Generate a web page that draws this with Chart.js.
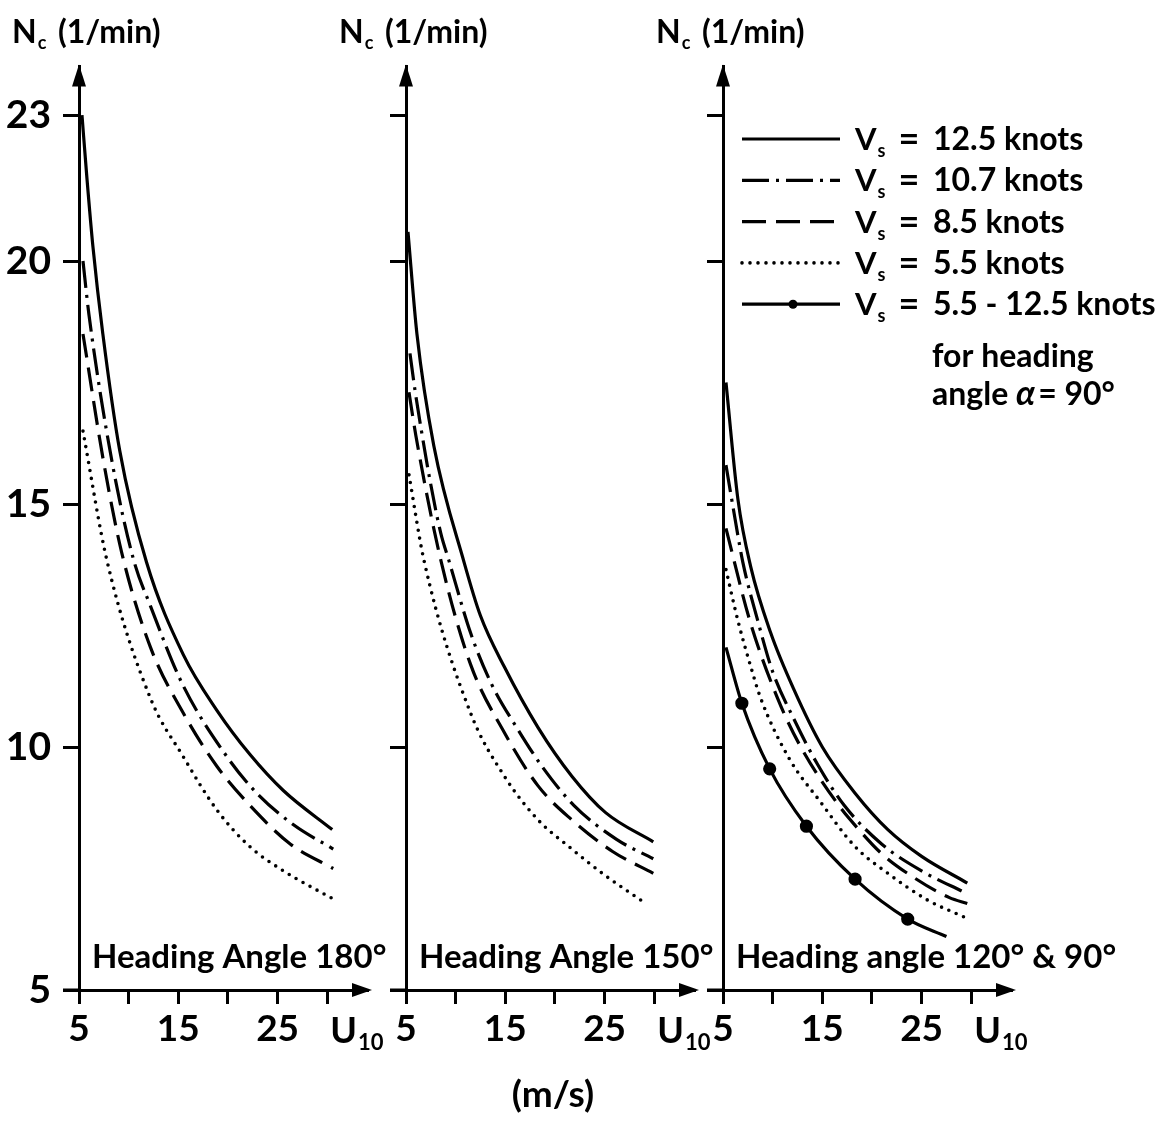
<!DOCTYPE html>
<html>
<head>
<meta charset="utf-8">
<title>Nc against U10</title>
<script src="https://cdn.jsdelivr.net/npm/chart.js@4.4.0/dist/chart.umd.min.js"></script>
<style>
  html, body { margin: 0; padding: 0; background: #fff; }
  #wrap { position: relative; width: 1169px; height: 1125px; overflow: hidden; }
  #wrap canvas { position: absolute; top: 0; }
</style>
</head>
<body>
<div id="wrap">
  <canvas id="p180" width="400" height="1125" style="left:0px"></canvas>
  <canvas id="p150" width="400" height="1125" style="left:327px"></canvas>
  <canvas id="p120" width="525" height="1125" style="left:644px"></canvas>
</div>
<script>
// axis ticks: wind speed U10 (m/s) and Nc (1/min)
const xTicks = [5, 10, 15, 20, 25, 30]
const xTickLabels = [5, 15, 25]
const yTicks = [5, 10, 15, 20, 23]

// ship speeds shown in the legend
const speedLabels = ['12.5 knots', '10.7 knots', '8.5 knots', '5.5 knots', '5.5 - 12.5 knots']

// heading angle 180°, [U10, Nc] per ship speed
const h180_v125 = [[5.3, 23.0], [5.8, 21.7], [6.4, 20.3], [7.4, 18.5], [9.1, 16.1], [11.8, 13.8], [15.5, 11.9], [18.9, 10.75], [22.2, 9.85], [25.6, 9.1], [30.5, 8.3]]
const h180_v107 = [[5.4, 20.0], [6.0, 18.9], [8.3, 15.9], [10.5, 13.85], [12.2, 12.9], [15.4, 11.3], [19.9, 9.8], [22.9, 9.05], [26.6, 8.4], [30.6, 7.9]]
const h180_v85 = [[5.4, 18.5], [7.45, 15.9], [9.3, 14.0], [12.2, 12.05], [15.5, 10.7], [18.9, 9.6], [22.2, 8.8], [26.3, 8.0], [30.6, 7.5]]
const h180_v55 = [[5.4, 16.5], [7.8, 13.85], [12.2, 11.0], [15.5, 9.8], [18.9, 8.7], [22.2, 7.95], [25.6, 7.45], [30.8, 6.85]]

// heading angle 150°
const h150_v125 = [[5.2, 20.6], [6.1, 18.5], [7.8, 16.2], [10.85, 13.8], [12.5, 12.7], [14.9, 11.65], [18.3, 10.4], [21.7, 9.4], [25.1, 8.65], [29.9, 8.05]]
const h150_v107 = [[5.4, 18.1], [5.9, 17.35], [6.6, 16.45], [7.45, 15.45], [8.5, 14.4], [9.3, 13.85], [11.5, 12.35], [13.6, 11.3], [16.3, 10.35], [18.7, 9.6], [21.9, 8.8], [26.2, 8.1], [29.9, 7.7]]
const h150_v85 = [[5.3, 17.3], [6.0, 16.4], [8.5, 13.85], [11.5, 11.7], [14.9, 10.3], [18.3, 9.2], [21.7, 8.5], [25.8, 7.85], [29.9, 7.4]]
const h150_v55 = [[5.3, 15.6], [6.8, 13.85], [11.5, 10.7], [14.9, 9.4], [18.3, 8.5], [21.7, 7.9], [25.1, 7.35], [29.0, 6.8]]

// heading angle 120°, plus the 90° curve that holds for all speeds
const h120_v125 = [[5.3, 17.5], [6.5, 15.1], [7.8, 13.7], [9.8, 12.35], [12.1, 11.2], [15.0, 10.0], [18.3, 9.05], [21.6, 8.3], [25.0, 7.75], [29.6, 7.2]]
const h120_v107 = [[5.3, 15.8], [6.0, 14.95], [7.0, 13.8], [8.5, 12.6], [10.0, 11.55], [12.2, 10.55], [14.5, 9.65], [17.2, 8.8], [21.0, 8.0], [25.0, 7.45], [29.4, 7.0]]
const h120_v85 = [[5.3, 14.5], [7.7, 12.6], [10.5, 11.0], [12.7, 10.05], [16.65, 8.8], [18.55, 8.33], [21.0, 7.8], [24.1, 7.33], [27.8, 6.9], [29.6, 6.78]]
const h120_v55 = [[5.3, 13.65], [6.5, 12.6], [7.8, 11.65], [8.8, 11.0], [11.7, 9.75], [14.7, 8.9], [18.3, 7.95], [21.6, 7.4], [25.6, 6.85], [29.3, 6.5]]
const h90_all = [[5.3, 12.05], [6.9, 10.9], [9.7, 9.55], [13.4, 8.37], [18.3, 7.28], [23.6, 6.46], [27.5, 6.1]]
const h90_marks = [0, 5, 5, 5, 5, 5, 0]

const FONT = 'Lato, "Open Sans", sans-serif'
Chart.defaults.font.family = FONT
Chart.defaults.font.weight = 'bold'
Chart.defaults.color = '#000'

// line style for each ship speed
const styles = [
  { borderDash: [] },
  { borderDash: [27, 7, 3, 7] },
  { borderDash: [24, 10] },
  { borderDash: [0, 8], borderCapStyle: 'round', borderWidth: 3.6 },
  { borderDash: [], pointRadius: h90_marks }
]

const toXY = pts => pts.map(p => ({ x: p[0], y: p[1] }))

function series(i, pts) {
  return Object.assign({
    label: speedLabels[i],
    data: toXY(pts),
    borderColor: '#000',
    backgroundColor: '#000',
    borderWidth: 3.2,
    borderCapStyle: 'butt',
    pointRadius: 0,
    cubicInterpolationMode: 'monotone',
    fill: false
  }, styles[i])
}

// main text followed by a lowered subscript, returns the x where it ends
function textSub(ctx, x, y, main, sub, size, subSize, drop) {
  ctx.font = `bold ${size}px ${FONT}`
  ctx.fillText(main, x, y)
  const w = ctx.measureText(main).width
  ctx.font = `bold ${subSize}px ${FONT}`
  ctx.fillText(sub, x + w + 1, y + drop)
  return x + w + 1 + ctx.measureText(sub).width
}

function drawLegend(ctx, a, chart) {
  chart.data.datasets.forEach((ds, i) => {
    const base = 150 + i * 41.3
    const ly = base - 11
    ctx.save()
    ctx.lineWidth = ds.borderWidth
    ctx.lineCap = ds.borderCapStyle
    ctx.setLineDash(ds.borderDash)
    ctx.beginPath()
    ctx.moveTo(a.left + 19, ly)
    ctx.lineTo(a.left + 117, ly)
    ctx.stroke()
    ctx.restore()
    if (Array.isArray(ds.pointRadius)) {
      ctx.beginPath()
      ctx.arc(a.left + 70, ly, 4.5, 0, Math.PI * 2)
      ctx.fill()
    }
    textSub(ctx, a.left + 132, base, 'V', 's', 31, 18, 7)
    ctx.font = `bold 36px ${FONT}`
    ctx.textAlign = 'center'
    ctx.fillText('=', a.left + 186, base + 1)
    ctx.textAlign = 'left'
    ctx.font = `bold 32px ${FONT}`
    ctx.fillText(ds.label, a.left + 210, base)
  })
  ctx.font = `bold 32px ${FONT}`
  ctx.fillText('for heading', a.left + 209, 367)
  ctx.fillText('angle', a.left + 209, 405)
  let cx = a.left + 209 + ctx.measureText('angle ').width
  ctx.font = `italic bold 34px ${FONT}`
  ctx.fillText('α', cx, 405)
  cx += ctx.measureText('α').width + 3
  ctx.font = `bold 32px ${FONT}`
  ctx.fillText('= 90°', cx, 405)
}

// axis arrows, axis titles, panel caption and legend
const decor = {
  id: 'decor',
  afterDraw(chart, args, opts) {
    const { ctx, chartArea: a, scales: { x } } = chart
    ctx.save()
    ctx.fillStyle = '#000'
    ctx.strokeStyle = '#000'
    ctx.lineWidth = 3

    // x axis carries on past the y axis to the tick ends
    ctx.beginPath()
    ctx.moveTo(a.left - 16, a.bottom)
    ctx.lineTo(a.left, a.bottom)
    ctx.stroke()

    ctx.beginPath()
    ctx.moveTo(a.right + 5, a.bottom)
    ctx.lineTo(a.right - 15, a.bottom - 7)
    ctx.lineTo(a.right - 15, a.bottom + 7)
    ctx.closePath()
    ctx.fill()

    ctx.beginPath()
    ctx.moveTo(a.left, a.top - 2)
    ctx.lineTo(a.left - 7, a.top + 20)
    ctx.lineTo(a.left + 7, a.top + 20)
    ctx.closePath()
    ctx.fill()

    ctx.textAlign = 'left'
    ctx.textBaseline = 'alphabetic'
    textSub(ctx, a.left - 67, 43, 'N', 'c', 32, 18, 6)
    ctx.font = `bold 32px ${FONT}`
    ctx.fillText('(1/min)', a.left - 21, 43)

    textSub(ctx, x.getPixelForValue(30) + 3, 1043, 'U', '10', 36, 22, 7)

    ctx.font = `bold 33px ${FONT}`
    ctx.fillText(opts.caption, a.left + 13, 968)

    if (opts.units) {
      ctx.font = `bold 37px ${FONT}`
      ctx.textAlign = 'center'
      ctx.fillText('(m/s)', a.left + 147, 1107)
      ctx.textAlign = 'left'
    }
    if (opts.legend) drawLegend(ctx, a, chart)
    ctx.restore()
  }
}

function panel(id, datasets, opts, padRight) {
  return new Chart(document.getElementById(id), {
    type: 'line',
    data: { datasets: datasets },
    options: {
      responsive: false,
      animation: false,
      events: [],
      layout: { padding: { top: 66.6, right: padRight, bottom: 0, left: 0 } },
      scales: {
        x: {
          type: 'linear',
          min: 5,
          max: 34,
          afterBuildTicks: s => { s.ticks = xTicks.map(v => ({ value: v })) },
          afterFit: s => { s.height = 135 },
          ticks: {
            padding: 7,
            maxRotation: 0,
            autoSkip: false,
            font: { size: 37, lineHeight: 1 },
            callback: v => xTickLabels.includes(v) ? String(v) : ''
          },
          grid: { drawOnChartArea: false, tickLength: 14, lineWidth: 3, color: '#000' },
          border: { display: true, width: 3, color: '#000' }
        },
        y: {
          type: 'linear',
          min: 5,
          max: 24,
          afterBuildTicks: s => { s.ticks = yTicks.map(v => ({ value: v })) },
          afterFit: s => { s.width = 79 },
          ticks: {
            padding: 12,
            font: { size: 39, lineHeight: 1 },
            callback: v => opts.yLabels ? String(v) : ''
          },
          grid: { drawOnChartArea: false, tickLength: 16, lineWidth: 3, color: '#000' },
          border: { display: true, width: 3, color: '#000' }
        }
      },
      plugins: {
        legend: { display: false },
        tooltip: { enabled: false },
        decor: opts
      }
    },
    plugins: [decor]
  })
}

panel('p180',
  [series(0, h180_v125), series(1, h180_v107), series(2, h180_v85), series(3, h180_v55)],
  { caption: 'Heading Angle 180°', yLabels: true }, 33)

panel('p150',
  [series(0, h150_v125), series(1, h150_v107), series(2, h150_v85), series(3, h150_v55)],
  { caption: 'Heading Angle 150°', units: true }, 33)

panel('p120',
  [series(0, h120_v125), series(1, h120_v107), series(2, h120_v85), series(3, h120_v55), series(4, h90_all)],
  { caption: 'Heading angle 120° & 90°', legend: true }, 158)
</script>
</body>
</html>
